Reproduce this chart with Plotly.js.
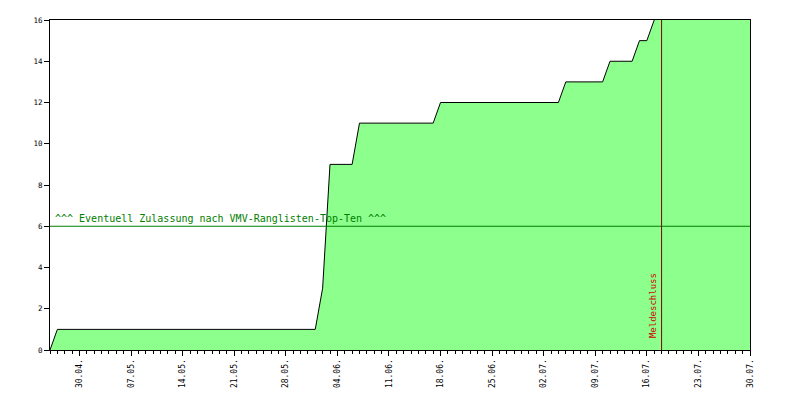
<!DOCTYPE html>
<html>
<head>
<meta charset="utf-8">
<script src="https://cdn.plot.ly/plotly-3.0.1.min.js"></script>
<style>html,body{margin:0;padding:0;background:#fff;}#chart{width:800px;height:400px;}</style>
</head>
<body>
<div id="chart"></div>
<script>
// Registration count over time (break points of the curve)
const dates = ["2008-04-26","2008-04-27","2008-06-01","2008-06-02","2008-06-03","2008-06-06","2008-06-07",
               "2008-06-17","2008-06-18","2008-07-04","2008-07-05","2008-07-10","2008-07-11",
               "2008-07-14","2008-07-15","2008-07-16","2008-07-17","2008-07-18","2008-07-30"];
const counts = [0,1,1,3,9,9,11,11,12,12,13,13,14,14,15,15,16,17,17];

const thresholdValue = 6;
const thresholdLabel = "^^^ Eventuell Zulassung nach VMV-Ranglisten-Top-Ten ^^^";
const deadlineDate = "2008-07-18";
const deadlineLabel = "Meldeschluss";
const xRange = ["2008-04-26","2008-07-30"];
const yRange = [0,16];

const mono = "DejaVu Sans Mono, Liberation Mono, monospace";

const data = [{
  type: "scatter",
  mode: "lines",
  x: dates,
  y: counts,
  fill: "tozeroy",
  fillcolor: "#8cff8c",
  line: {color: "#000000", width: 1},
  hoverinfo: "skip"
}];

const layout = {
  width: 800, height: 400,
  margin: {l: 50, r: 50, t: 20, b: 50, pad: 0},
  paper_bgcolor: "#ffffff",
  plot_bgcolor: "#ffffff",
  showlegend: false,
  xaxis: {
    type: "date",
    range: xRange,
    showgrid: false,
    zeroline: false,
    showline: true,
    linecolor: "#000",
    linewidth: 1,
    mirror: true,
    ticks: "outside",
    ticklen: 5,
    tickcolor: "#000",
    tick0: "2008-04-30",
    dtick: 7*86400000,
    tickformat: "%d.%m.",
    tickangle: -90,
    tickfont: {family: mono, size: 8, color: "#000"},
    minor: {dtick: 86400000, ticks: "outside", ticklen: 3, tickcolor: "#000", showgrid: false}
  },
  yaxis: {
    range: yRange,
    dtick: 2,
    showgrid: false,
    zeroline: false,
    showline: true,
    linecolor: "#000",
    linewidth: 1,
    mirror: true,
    ticks: "outside",
    ticklen: 5,
    tickcolor: "#000",
    tickfont: {family: mono, size: 7.5, color: "#000"}
  },
  shapes: [
    {type: "line", xref: "paper", x0: 0, x1: 1, yref: "y", y0: thresholdValue, y1: thresholdValue,
     line: {color: "#008000", width: 1}},
    {type: "line", xref: "x", x0: deadlineDate, x1: deadlineDate, yref: "paper", y0: 0, y1: 1,
     line: {color: "#800000", width: 1}}
  ],
  annotations: [
    {text: thresholdLabel, xref: "paper", x: 0, xanchor: "left", xshift: 3,
     yref: "y", y: thresholdValue, yanchor: "bottom", yshift: 0, showarrow: false,
     font: {family: mono, size: 10, color: "#008000"}},
    {text: deadlineLabel, xref: "x", x: deadlineDate, xanchor: "right", xshift: -2,
     yref: "y", y: 0, yanchor: "bottom", yshift: 10, textangle: -90, showarrow: false,
     font: {family: mono, size: 9, color: "#d00000"}}
  ]
};

Plotly.newPlot("chart", data, layout, {staticPlot: true, displayModeBar: false});
</script>
</body>
</html>
